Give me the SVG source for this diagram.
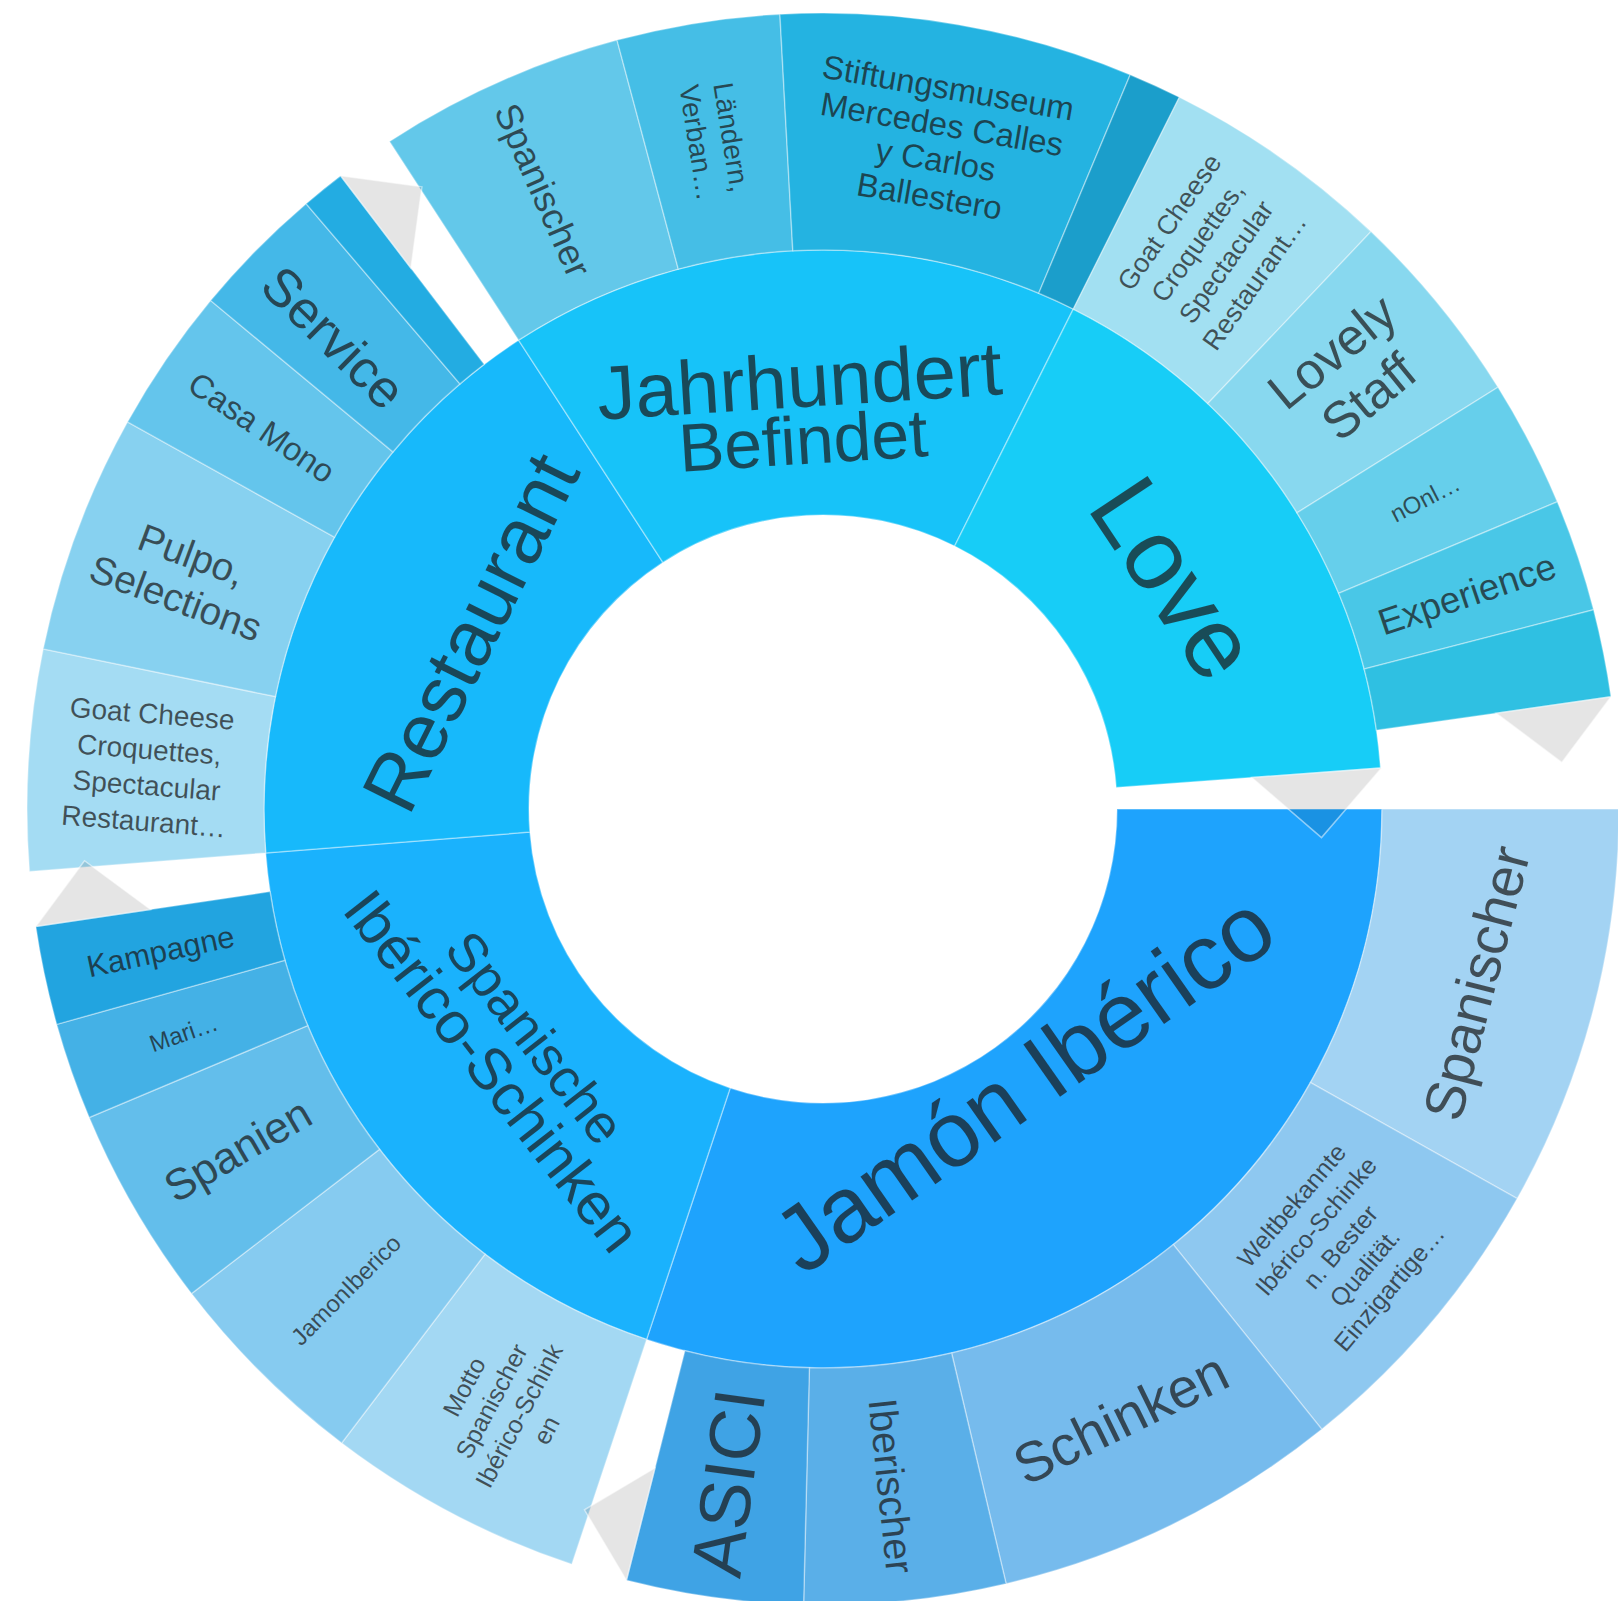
<svg xmlns="http://www.w3.org/2000/svg" width="1618" height="1601" viewBox="0 0 1618 1601">
<style>
.seg{stroke:#ffffff;stroke-opacity:0.35;stroke-width:1.5}
.lbl{font-family:"Liberation Sans",Arial,sans-serif;fill:#1a1a1a;fill-opacity:0.72;text-anchor:middle;dominant-baseline:central}
.tri{fill:#000000;fill-opacity:0.1;stroke:#ffffff;stroke-opacity:0.5;stroke-width:1.5}
</style>
<rect width="1618" height="1601" fill="#ffffff"/>

<g id="node-jamon-iberico">
<path class="seg" fill="#1ea3fd" d="M1382,809 A559,559 0 0 1 646.6,1339.4 L730.2,1088 A294,294 0 0 0 1117,809 Z"/>
<g transform="translate(1024,1083) rotate(-35)"><text class="lbl" style="font-size:93px"><tspan x="0" y="0">Jamón Ibérico</tspan></text></g>
</g>
<g id="node-spanische-iberico-schinken">
<path class="seg" fill="#1ab2fd" d="M646.6,1339.4 A559,559 0 0 1 265.7,852.9 L529.9,832.1 A294,294 0 0 0 730.2,1088 Z"/>
<g transform="translate(514,1054) rotate(52)"><text class="lbl"><tspan x="0" y="-27" style="font-size:54px">Spanische</tspan><tspan x="0" y="28" style="font-size:59px">Ibérico-Schinken</tspan></text></g>
</g>
<g id="node-restaurant">
<path class="seg" fill="#17b9fb" d="M265.7,852.9 A559,559 0 0 1 518.6,340.2 L662.9,562.4 A294,294 0 0 0 529.9,832.1 Z"/>
<g transform="translate(470,632) rotate(-63.5)"><text class="lbl" style="font-size:79px"><tspan x="0" y="0">Restaurant</tspan></text></g>
</g>
<g id="node-jahrhundert-befindet">
<path class="seg" fill="#17c3f9" d="M518.6,340.2 A559,559 0 0 1 1073.3,309.1 L954.6,546.1 A294,294 0 0 0 662.9,562.4 Z"/>
<g transform="translate(801.5,413) rotate(-3.6)"><text class="lbl"><tspan x="0" y="-33" style="font-size:76px">Jahrhundert</tspan><tspan x="0" y="27" style="font-size:68px">Befindet</tspan></text></g>
</g>
<g id="node-love">
<path class="seg" fill="#17cdf7" d="M1073.3,309.1 A559,559 0 0 1 1380.5,768.1 L1116.2,787.5 A294,294 0 0 0 954.6,546.1 Z"/>
<g transform="translate(1175,578) rotate(56.3)"><text class="lbl" style="font-size:100px"><tspan x="0" y="0">Love</tspan></text></g>
</g>

<g id="node-jamon-spanischer">
<path class="seg" fill="#a3d3f3" d="M1619,809 A796,796 0 0 1 1517.2,1198.6 L1310.5,1082.6 A559,559 0 0 0 1382,809 Z"/>
<g transform="translate(1476,983) rotate(-75.35)"><text class="lbl" style="font-size:56px"><tspan x="0" y="0">Spanischer</tspan></text></g>
</g>
<g id="node-weltbekannte">
<path class="seg" fill="#8ec8f0" d="M1517.2,1198.6 A796,796 0 0 1 1321.8,1429.3 L1173.3,1244.6 A559,559 0 0 0 1310.5,1082.6 Z"/>
<g transform="translate(1340.1,1246.7) rotate(-49.75)"><text class="lbl" style="font-size:25px"><tspan x="0" y="-64">Weltbekannte</tspan><tspan x="0" y="-32">Ibérico-Schinke</tspan><tspan x="0" y="0">n. Bester</tspan><tspan x="0" y="32">Qualität.</tspan><tspan x="0" y="64">Einzigartige…</tspan></text></g>
</g>
<g id="node-schinken">
<path class="seg" fill="#76bbed" d="M1321.8,1429.3 A796,796 0 0 1 1006.1,1583.7 L951.6,1353 A559,559 0 0 0 1173.3,1244.6 Z"/>
<g transform="translate(1120.4,1417.7) rotate(-26.05)"><text class="lbl" style="font-size:56px"><tspan x="0" y="0">Schinken</tspan></text></g>
</g>
<g id="node-iberischer">
<path class="seg" fill="#5aafe8" d="M1006.1,1583.7 A796,796 0 0 1 803.6,1604.8 L809.4,1367.8 A559,559 0 0 0 951.6,1353 Z"/>
<g transform="translate(891.5,1486) rotate(84.05)"><text class="lbl" style="font-size:40px"><tspan x="0" y="0">Iberischer</tspan></text></g>
</g>
<g id="node-asici">
<path class="seg" fill="#3fa3e5" d="M803.6,1604.8 A796,796 0 0 1 626.4,1580.3 L684.9,1350.7 A559,559 0 0 0 809.4,1367.8 Z"/>
<g transform="translate(728,1483) rotate(-82.15)"><text class="lbl" style="font-size:72px"><tspan x="0" y="0">ASICI</tspan></text></g>
</g>

<g id="node-motto">
<path class="seg" fill="#a3d8f3" d="M571.8,1564.3 A796,796 0 0 1 341.7,1443 L485,1254.2 A559,559 0 0 0 646.6,1339.4 Z"/>
<g transform="translate(505,1408.3) rotate(-62.2)"><text class="lbl" style="font-size:25px"><tspan x="0" y="-46.5">Motto</tspan><tspan x="0" y="-15.5">Spanischer</tspan><tspan x="0" y="15.5">Ibérico-Schink</tspan><tspan x="0" y="46.5">en</tspan></text></g>
</g>
<g id="node-jamoniberico">
<path class="seg" fill="#86cbf0" d="M341.7,1443 A796,796 0 0 1 191.5,1293.6 L379.5,1149.3 A559,559 0 0 0 485,1254.2 Z"/>
<g transform="translate(345.4,1289.5) rotate(-45.15)"><text class="lbl" style="font-size:24px"><tspan x="0" y="0">JamonIberico</tspan></text></g>
</g>
<g id="node-spanien">
<path class="seg" fill="#63beeb" d="M191.5,1293.6 A796,796 0 0 1 89.2,1117.5 L307.7,1025.6 A559,559 0 0 0 379.5,1149.3 Z"/>
<g transform="translate(237.2,1149.3) rotate(-30.15)"><text class="lbl" style="font-size:44px"><tspan x="0" y="0">Spanien</tspan></text></g>
</g>
<g id="node-mari">
<path class="seg" fill="#44b1e6" d="M89.2,1117.5 A796,796 0 0 1 56.7,1024.4 L284.9,960.3 A559,559 0 0 0 307.7,1025.6 Z"/>
<g transform="translate(183.4,1032.4) rotate(-19.25)"><text class="lbl" style="font-size:24px"><tspan x="0" y="0">Mari…</tspan></text></g>
</g>
<g id="node-kampagne">
<path class="seg" fill="#22a4e0" d="M56.7,1024.4 A796,796 0 0 1 35.8,926.6 L270.1,891.6 A559,559 0 0 0 284.9,960.3 Z"/>
<g transform="translate(160.5,951) rotate(-12.1)"><text class="lbl" style="font-size:31px"><tspan x="0" y="0">Kampagne</tspan></text></g>
</g>

<g id="node-restaurant-goat-cheese">
<path class="seg" fill="#a4dcf3" d="M29.5,871.5 A796,796 0 0 1 43.2,648.9 L275.4,696.6 A559,559 0 0 0 265.7,852.9 Z"/>
<g transform="translate(148,767.1) rotate(4.5)"><text class="lbl" style="font-size:28px"><tspan x="0" y="-54">Goat Cheese</tspan><tspan x="0" y="-18">Croquettes,</tspan><tspan x="0" y="18">Spectacular</tspan><tspan x="0" y="54">Restaurant…</tspan></text></g>
</g>
<g id="node-pulpo">
<path class="seg" fill="#87d1f0" d="M43.2,648.9 A796,796 0 0 1 127.5,421.9 L334.5,537.2 A559,559 0 0 0 275.4,696.6 Z"/>
<g transform="translate(184,576) rotate(20.35)"><text class="lbl" style="font-size:39px"><tspan x="0" y="-23">Pulpo,</tspan><tspan x="0" y="23">Selections</tspan></text></g>
</g>
<g id="node-casa-mono">
<path class="seg" fill="#64c5ec" d="M127.5,421.9 A796,796 0 0 1 210.6,300.5 L392.9,451.9 A559,559 0 0 0 334.5,537.2 Z"/>
<g transform="translate(262,427) rotate(34.4)"><text class="lbl" style="font-size:33px"><tspan x="0" y="0">Casa Mono</tspan></text></g>
</g>
<g id="node-service">
<path class="seg" fill="#44b8e8" d="M210.6,300.5 A796,796 0 0 1 306.1,203.7 L460,383.9 A559,559 0 0 0 392.9,451.9 Z"/>
<g transform="translate(334,337) rotate(44.6)"><text class="lbl" style="font-size:53px"><tspan x="0" y="0">Service</tspan></text></g>
</g>
<g id="node-restaurant-strip">
<path class="seg" fill="#23ace2" d="M306.1,203.7 A796,796 0 0 1 340.6,175.8 L484.2,364.3 A559,559 0 0 0 460,383.9 Z"/>
</g>

<g id="node-jahrhundert-spanischer">
<path class="seg" fill="#63c8ea" d="M389.5,141.4 A796,796 0 0 1 617,40.1 L678.3,269.1 A559,559 0 0 0 518.6,340.2 Z"/>
<g transform="translate(543,190.1) rotate(66)"><text class="lbl" style="font-size:37px"><tspan x="0" y="0">Spanischer</tspan></text></g>
</g>
<g id="node-laendern">
<path class="seg" fill="#45bee6" d="M617,40.1 A796,796 0 0 1 779.9,14.2 L792.8,250.8 A559,559 0 0 0 678.3,269.1 Z"/>
<g transform="translate(715,139.9) rotate(80.95)"><text class="lbl" style="font-size:28px"><tspan x="0" y="-17">Ländern,</tspan><tspan x="0" y="17">Verban…</tspan></text></g>
</g>
<g id="node-stiftungsmuseum">
<path class="seg" fill="#24b3e1" d="M779.9,14.2 A796,796 0 0 1 1130.2,74.7 L1038.7,293.3 A559,559 0 0 0 792.8,250.8 Z"/>
<g transform="translate(939,141.4) rotate(9.8)"><text class="lbl" style="font-size:33px"><tspan x="0" y="-55">Stiftungsmuseum</tspan><tspan x="0" y="-18">Mercedes Calles</tspan><tspan x="0" y="18">y Carlos</tspan><tspan x="0" y="55">Ballestero</tspan></text></g>
</g>
<g id="node-jahrhundert-strip">
<path class="seg" fill="#1b9ecb" d="M1130.2,74.7 A796,796 0 0 1 1179.4,97.2 L1073.3,309.1 A559,559 0 0 0 1038.7,293.3 Z"/>
</g>

<g id="node-love-goat-cheese">
<path class="seg" fill="#a2e0f2" d="M1179.4,97.2 A796,796 0 0 1 1371,231.6 L1207.8,403.5 A559,559 0 0 0 1073.3,309.1 Z"/>
<g transform="translate(1212.1,252) rotate(-54.95)"><text class="lbl" style="font-size:27px"><tspan x="0" y="-52">Goat Cheese</tspan><tspan x="0" y="-17.5">Croquettes,</tspan><tspan x="0" y="17.5">Spectacular</tspan><tspan x="0" y="52">Restaurant…</tspan></text></g>
</g>
<g id="node-lovely-staff">
<path class="seg" fill="#88d8ef" d="M1371,231.6 A796,796 0 0 1 1498,387.2 L1297,512.8 A559,559 0 0 0 1207.8,403.5 Z"/>
<g transform="translate(1350,374) rotate(-39.25)"><text class="lbl" style="font-size:51px"><tspan x="0" y="-29">Lovely</tspan><tspan x="0" y="29">Staff</tspan></text></g>
</g>
<g id="node-nonl">
<path class="seg" fill="#66cfeb" d="M1498,387.2 A796,796 0 0 1 1557.3,501.8 L1338.7,593.3 A559,559 0 0 0 1297,512.8 Z"/>
<g transform="translate(1424.8,497.8) rotate(-27.35)"><text class="lbl" style="font-size:24px"><tspan x="0" y="0">nOnl…</tspan></text></g>
</g>
<g id="node-experience">
<path class="seg" fill="#49c7e7" d="M1557.3,501.8 A796,796 0 0 1 1593.6,609.7 L1364.2,669 A559,559 0 0 0 1338.7,593.3 Z"/>
<g transform="translate(1467,594) rotate(-18.6)"><text class="lbl" style="font-size:37px"><tspan x="0" y="0">Experience</tspan></text></g>
</g>
<g id="node-love-strip">
<path class="seg" fill="#2fc0e2" d="M1593.6,609.7 A796,796 0 0 1 1611,696.8 L1376.4,730.2 A559,559 0 0 0 1364.2,669 Z"/>
</g>

<g id="pointers">
<path class="tri" d="M1251.8,777.5 L1381.5,768 L1321.5,837.6 Z"/>
<path class="tri" d="M1496.2,713.2 L1611,696.8 L1561.8,762.4 Z"/>
<path class="tri" d="M410.9,268.1 L340.6,175.8 L421.9,186.8 Z"/>
<path class="tri" d="M150.5,909.5 L35.8,926.6 L84.5,860.7 Z"/>
<path class="tri" d="M655,1467.9 L626.4,1580.3 L584.5,1509.8 Z"/>
</g>
</svg>
